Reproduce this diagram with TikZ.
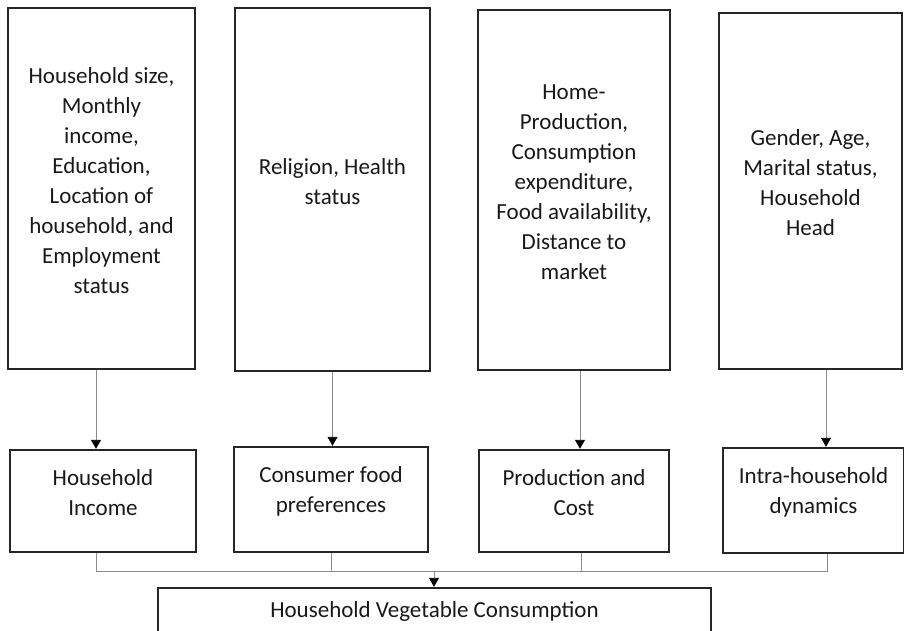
\documentclass[tikz,border=0pt]{standalone}
\usepackage{fontspec}
\setmainfont{Carlito}
\usepackage{tikz}
\usetikzlibrary{arrows.meta}

\tikzset{
  frame/.style={draw=black!85, line width=2.4pt},
  words/.style={align=center, text=black!90, font=\fontsize{23}{30}\selectfont, yshift=8pt},
  link/.style={draw=black!45, line width=0.9pt},
  arr/.style={link, -{Triangle[black, length=9pt, width=10pt]}}
}

\begin{document}
\begin{tikzpicture}[x=1pt, y=1pt]
                \useasboundingbox (0, 0) rectangle (904, -631);
                % factor boxes
                \node[frame, minimum width=187pt, minimum height=361pt, label={[words]center:{Household size,\\Monthly\\income,\\Education,\\Location of\\household, and\\Employment\\status}}] (t1) at (101.5, -188.5) {};
                \node[frame, minimum width=195pt, minimum height=363pt, label={[words]center:{Religion, Health\\status}}] (t2) at (332.5, -189.5) {};
                \node[frame, minimum width=192pt, minimum height=360pt, label={[words]center:{Home-\\Production,\\Consumption\\expenditure,\\Food availability,\\Distance to\\market}}] (t3) at (574, -190) {};
                \node[frame, minimum width=183pt, minimum height=356pt, label={[words]center:{Gender, Age,\\Marital status,\\Household\\Head}}] (t4) at (810.5, -191) {};
                % determinants
                \node[frame, minimum width=186pt, minimum height=102pt, label={[words]center:{Household\\Income}}] (b1) at (103, -501) {};
                \node[frame, minimum width=194pt, minimum height=105pt, label={[words]center:{Consumer food\\preferences}}] (b2) at (331, -499.5) {};
                \node[frame, minimum width=190pt, minimum height=102pt, label={[words]center:{Production and\\Cost}}] (b3) at (574, -501) {};
                \node[frame, minimum width=181pt, minimum height=105pt, label={[words]center:{Intra-household\\dynamics}}] (b4) at (813.5, -500.5) {};
                % outcome
                \node[frame, minimum width=553pt, minimum height=62pt, label={[words]center:{Household Vegetable Consumption}}] (veg) at (434.5, -619) {};
                \coordinate (meet) at (434, -571);
                \draw[arr] ([xshift=-5.5pt]t1.south) -- ([xshift=-5.5pt]t1.south |- b1.north);
                \draw[arr] (t2.south) -- (t2.south |- b2.north);
                \draw[arr] ([xshift=6pt]t3.south) -- ([xshift=6pt]t3.south |- b3.north);
                \draw[arr] ([xshift=15.5pt]t4.south) -- ([xshift=15.5pt]t4.south |- b4.north);
                \draw[link] ([xshift=-7pt]b1.south) |- (meet);
                \draw[link] (b2.south) |- (meet);
                \draw[link] ([xshift=7pt]b3.south) |- (meet);
                \draw[link] ([xshift=13.5pt]b4.south) |- (meet);
                \draw[arr] (meet) -- (meet |- veg.north);
            \end{tikzpicture}
\end{document}
